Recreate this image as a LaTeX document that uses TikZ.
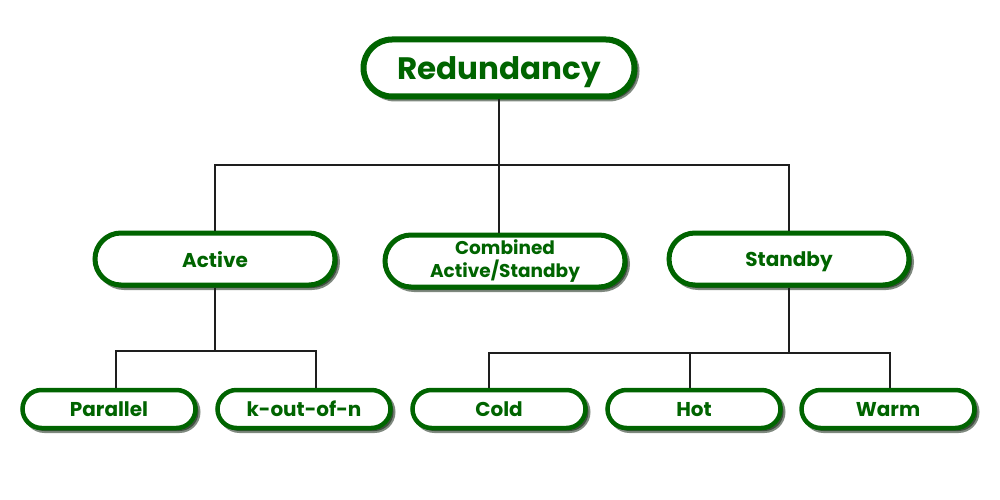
\documentclass[tikz,border=0pt]{standalone}
\usepackage{fontspec}
\setmainfont{Poppins}
\usetikzlibrary{shapes.misc,shadows}
\definecolor{gfgreen}{RGB}{0,100,0}
\definecolor{lin}{RGB}{30,30,30}
\tikzset{
  pill/.style={rounded rectangle, draw=gfgreen, fill=white, text=gfgreen,
    font=\bfseries, align=center, inner sep=0pt, text depth=0pt,
    drop shadow={shadow xshift=3pt, shadow yshift=-3pt, opacity=0.5, fill=black!80!gfgreen, draw=black!80!gfgreen, line width=4pt}},
  toppill/.style={pill, line width=6pt, minimum width=271pt, minimum height=57pt, font=\fontsize{31}{34}\selectfont\bfseries},
  midpill/.style={pill, line width=5pt, minimum width=240pt, minimum height=52pt, font=\fontsize{20}{22}\selectfont\bfseries},
  lowpill/.style={pill, line width=4.5pt, minimum width=173pt, minimum height=38pt, font=\fontsize{20}{22}\selectfont\bfseries},
  conn/.style={draw=lin, line width=2pt}
}
\begin{document}
\begin{tikzpicture}[x=1pt,y=-1pt]
\useasboundingbox (0,0) rectangle (1000,500);
\node[toppill] (red) at (499,68) {Redundancy};
\node[midpill] (act) at (215,259) {Active};
\node[midpill, text depth=, font=\fontsize{18.5}{23}\selectfont\bfseries] (comb) at (505,261) {Combined\\Active/Standby};
\node[midpill] (stb) at (789,259) {Standby};
\node[lowpill] (par) at (109,409) {Parallel};
\node[lowpill] (kon) at (304,409) {k-out-of-n};
\node[lowpill] (cold) at (499,409) {Cold};
\node[lowpill] (hot) at (694,409) {Hot};
\node[lowpill] (warm) at (888,409) {Warm};
\coordinate (h1) at (0,165);
\coordinate (h2) at (0,351);
\coordinate (h3) at (0,353);
\draw[conn] (red.south) -- (red.south |- comb.north);
\draw[conn] (act.north) -- (act.north |- h1) -- (stb.north |- h1) -- (stb.north);
\draw[conn] ([xshift=7pt]par.north) -- ([xshift=7pt]par.north |- h2) -- ([xshift=12pt]kon.north |- h2) -- ([xshift=12pt]kon.north);
\draw[conn] (act.south) -- (act.south |- h2);
\draw[conn] (stb.south) -- (stb.south |- h3);
\draw[conn] ([xshift=-10pt]cold.north) -- ([xshift=-10pt]cold.north |- h3) -- ([xshift=2pt]warm.north |- h3) -- ([xshift=2pt]warm.north);
\draw[conn] ([xshift=-4pt]hot.north) -- ([xshift=-4pt]hot.north |- h3);
\end{tikzpicture}
\end{document}
